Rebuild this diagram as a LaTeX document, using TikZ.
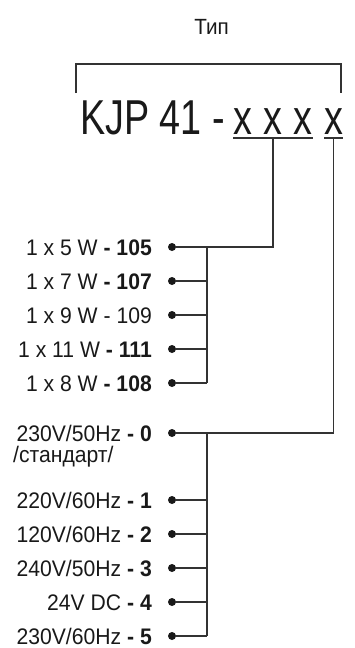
\documentclass[tikz,border=0pt]{standalone}
\usepackage{fontspec}
\setmainfont{Liberation Sans}
\newfontfamily\narrowfont[FakeStretch=0.77]{Liberation Sans}
\newfontfamily\rowfont[FakeStretch=0.94]{Liberation Sans}
\begin{document}
\begin{tikzpicture}[x=1pt,y=-1pt,
  conn/.style={draw=black!80, line width=1.1pt},
  dotnode/.style={circle, fill=black!90, inner sep=0pt, minimum size=8pt},
  lbl/.style={anchor=base east, inner sep=0pt, font=\rowfont\fontsize{22.5}{26}\selectfont, text=black!90},
  bigtxt/.style={inner sep=0pt, font=\narrowfont\fontsize{49}{50}\selectfont, text=black!90},
]
\useasboundingbox (0,0) rectangle (354,648);
% title
\node[anchor=base, inner sep=0pt, font=\rowfont\fontsize{22}{26}\selectfont, text=black!90] (tip) at (211.5,34) {Тип};
\coordinate (brl) at (76,93);
\coordinate (brr) at (341,93);
\draw[conn] (brl) -- ++(0,-29) -| (brr);
% type code
\node[bigtxt, anchor=base west] (kjp) at (80,134) {KJP 41 -};
\node[bigtxt, anchor=base] (x1) at (243,134) {x};
\node[bigtxt, anchor=base] (x2) at (273,134) {x};
\node[bigtxt, anchor=base] (x3) at (303,134) {x};
\node[bigtxt, anchor=base] (x4) at (334,134) {x};
\coordinate (u1l) at (233,138);
\coordinate (u1r) at (313,138);
\coordinate (u1m) at (273,138);
\coordinate (u2l) at (324,138);
\coordinate (u2r) at (343,138);
\coordinate (u2m) at (333.5,138);
\draw[conn] (u1l) -- (u1r);
\draw[conn] (u2l) -- (u2r);
% power rows
\foreach \n/\y/\t in {a/247/{1 x 5 W \textbf{- 105}},
                      b/281/{1 x 7 W \textbf{- 107}},
                      c/315/{1 x 9 W - 109},
                      d/349/{1 x 11 W \textbf{- 111}},
                      e/383/{1 x 8 W \textbf{- 108}}}{
  \node[dotnode] (dot\n) at (172,\y) {};
  \node[lbl] (lbl\n) at (152,\y+8.2) {\t};
}
\coordinate (busAtop) at (207,247);
\coordinate (busAbot) at (207,383);
\draw[conn] (u1m) |- (dota);
\draw[conn] (busAtop) -- (busAbot);
\foreach \n in {b,c,d,e}{
  \draw[conn] (dot\n) -- (dot\n -| busAtop);
}
% voltage rows
\foreach \n/\y/\t in {p/433/{230V/50Hz \textbf{- 0}},
                      q/500/{220V/60Hz \textbf{- 1}},
                      r/534/{120V/60Hz \textbf{- 2}},
                      s/568/{240V/50Hz \textbf{- 3}},
                      t/602/{24V DC \textbf{- 4}},
                      u/636/{230V/60Hz \textbf{- 5}}}{
  \node[dotnode] (dot\n) at (172,\y) {};
  \node[lbl] (lbl\n) at (152,\y+8.2) {\t};
}
\node[lbl, anchor=base west] (std) at (13,462) {/стандарт/};
\coordinate (busBtop) at (207,433);
\coordinate (busBbot) at (207,636);
\draw[conn] (u2m) |- (dotp);
\draw[conn] (busBtop) -- (busBbot);
\foreach \n in {q,r,s,t,u}{
  \draw[conn] (dot\n) -- (dot\n -| busBtop);
}
\end{tikzpicture}
\end{document}
